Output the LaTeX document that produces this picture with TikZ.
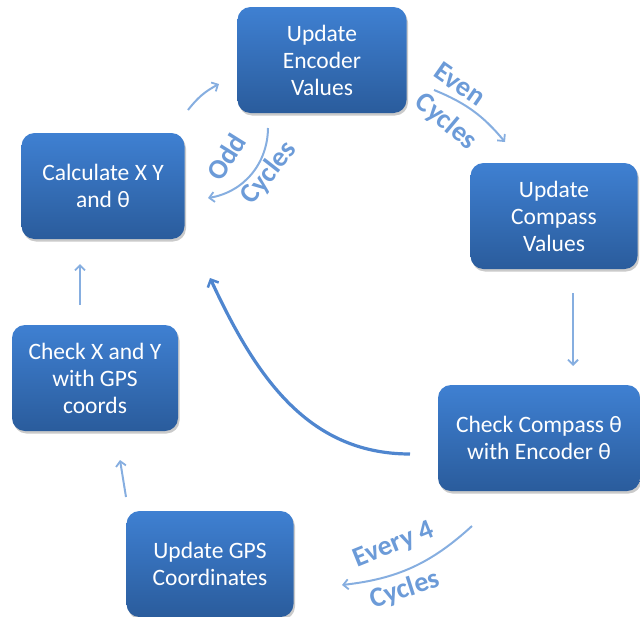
\documentclass[tikz,border=0pt]{standalone}
\usepackage{fontspec}
\setmainfont{Carlito}
\usetikzlibrary{arrows.meta,shadows}
\definecolor{boxtop}{HTML}{3F80D2}
\definecolor{boxbot}{HTML}{2A5C9C}
\definecolor{arrowblue}{HTML}{86AEE0}
\definecolor{bigarrow}{HTML}{4F86CF}
\definecolor{labelblue}{HTML}{6C9BD8}
\tikzset{
  stepbox/.style={rounded corners=13pt, top color=boxtop, bottom color=boxbot,
    draw=none, text=white, align=center, inner sep=0pt,
    minimum width=167pt, minimum height=106pt,
    font=\fontsize{23.5}{27}\selectfont,
    drop shadow={shadow xshift=1.5pt, shadow yshift=-2.5pt, opacity=0.35, fill=black!60}},
  flow/.style={draw=arrowblue, line width=2pt, -{Straight Barb[length=5pt,width=10pt,line width=1.8pt]}},
  bigflow/.style={draw=bigarrow, line width=3.2pt, -{Straight Barb[length=6pt,width=12pt,line width=2.5pt]}},
  cyclab/.style={text=labelblue, font=\bfseries\fontsize{28}{30}\selectfont, inner sep=0pt}
}
\begin{document}
\begin{tikzpicture}[x=1pt,y=1pt]
\useasboundingbox (0,0) rectangle (640,-616);

% process steps
\node[stepbox, minimum width=169pt] (enc) at (322,-60) {Update\\Encoder\\Values};
\node[stepbox] (comp) at (554,-216) {Update\\Compass\\Values};
\node[stepbox, minimum width=202pt] (check) at (539,-438) {Check Compass θ\\with Encoder θ};
\node[stepbox] (gps) at (210,-564) {Update GPS\\Coordinates};
\node[stepbox, minimum width=166pt] (chk) at (95,-378) {Check X and Y\\with GPS\\coords};
\node[stepbox, minimum width=163pt] (calc) at (103,-186) {Calculate X Y\\and θ};

% connector end points
\coordinate (c1s) at (188,-110); \coordinate (c1e) at (219,-84);
\coordinate (c2s) at (434,-90);  \coordinate (c2e) at (505,-142);
\coordinate (c3s) at (573,-293); \coordinate (c3e) at (573,-366);
\coordinate (c4s) at (472,-526); \coordinate (c4e) at (342,-585);
\coordinate (c5s) at (126,-497); \coordinate (c5e) at (120,-460);
\coordinate (c6s) at (80,-305);  \coordinate (c6e) at (80,-264);
\coordinate (c7s) at (410,-454); \coordinate (c7e) at (210,-278);
\coordinate (c8s) at (268,-128); \coordinate (c8e) at (208,-198);

% connectors
\draw[flow] (c1s) to[bend left=12] (c1e);
\draw[flow] (c2s) to[bend left=14] (c2e);
\draw[flow] (c3s) -- (c3e);
\draw[flow] (c4s) to[bend left=18] (c4e);
\draw[flow] (c5s) -- (c5e);
\draw[flow] (c6s) -- (c6e);
\draw[bigflow] (c7s) to[out=180,in=-65] (c7e);
\draw[flow] (c8s) to[bend left=40] (c8e);

% cycle labels
\node[cyclab, rotate=-35] (even1) at (460,-84) {Even};
\node[cyclab, rotate=-40] (even2) at (446,-122) {Cycles};
\node[cyclab, rotate=58] (odd1) at (226,-157) {Odd};
\node[cyclab, rotate=52] (odd2) at (269,-173) {Cycles};
\node[cyclab, rotate=22] (ev41) at (394,-545) {Every 4};
\node[cyclab, rotate=18] (ev42) at (405,-590) {Cycles};
\end{tikzpicture}
\end{document}
